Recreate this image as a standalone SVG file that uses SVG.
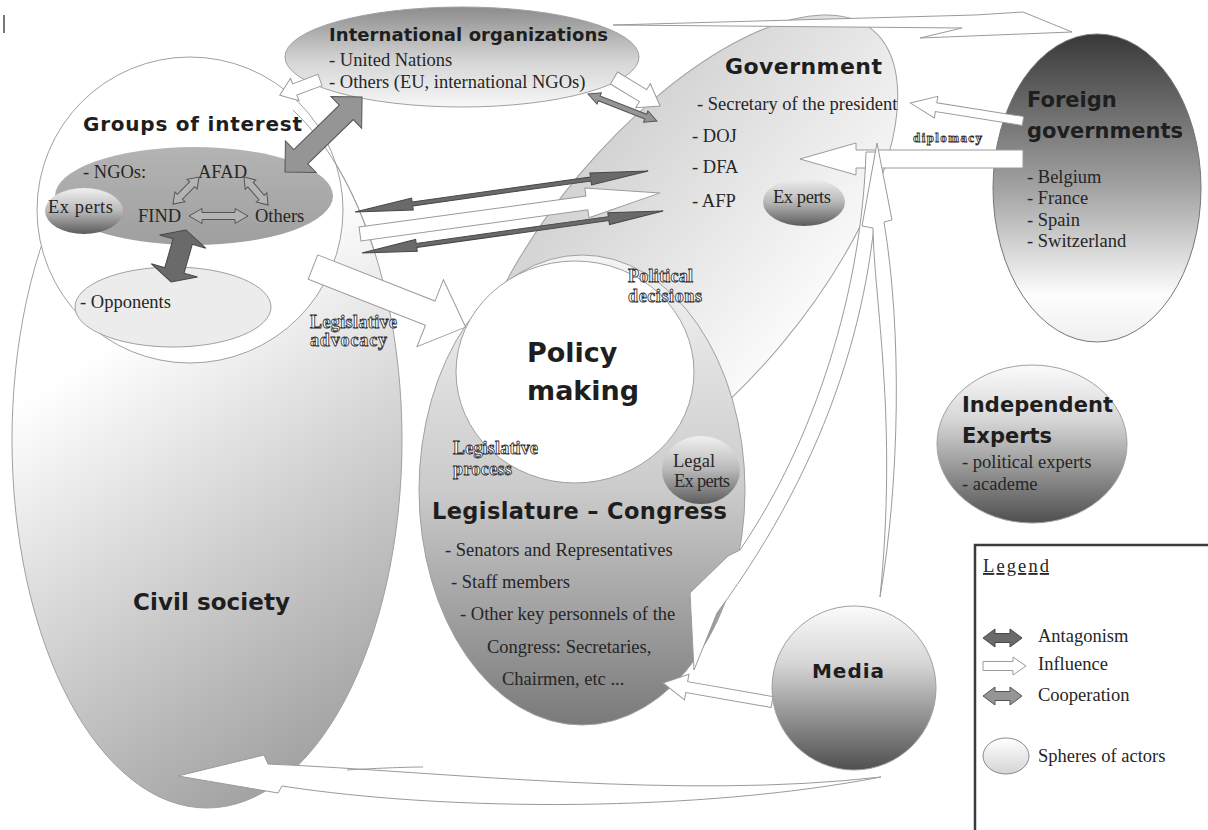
<svg xmlns="http://www.w3.org/2000/svg" width="1208" height="830" viewBox="0 0 1208 830">
  <defs>
    <linearGradient id="gCivil" gradientUnits="userSpaceOnUse" x1="100" y1="350" x2="370" y2="760">
      <stop offset="0" stop-color="#ffffff"/>
      <stop offset="1" stop-color="#9c9c9c"/>
    </linearGradient>
    <linearGradient id="gGov" x1="0" y1="0" x2="0" y2="1">
      <stop offset="0" stop-color="#d3d3d3"/>
      <stop offset="1" stop-color="#fafafa"/>
    </linearGradient>
    <linearGradient id="gIntl" x1="0" y1="0" x2="0" y2="1">
      <stop offset="0" stop-color="#8c8c8c"/>
      <stop offset="0.55" stop-color="#d6d6d6"/>
      <stop offset="1" stop-color="#f7f7f7"/>
    </linearGradient>
    <linearGradient id="gLeg" x1="0" y1="0" x2="0" y2="1">
      <stop offset="0" stop-color="#f4f4f4"/>
      <stop offset="0.5" stop-color="#cbcbcb"/>
      <stop offset="1" stop-color="#7a7a7a"/>
    </linearGradient>
    <linearGradient id="gForeign" x1="0" y1="0" x2="0" y2="1">
      <stop offset="0" stop-color="#383838"/>
      <stop offset="0.5" stop-color="#a2a2a2"/>
      <stop offset="0.85" stop-color="#fdfdfd"/>
      <stop offset="1" stop-color="#efefef"/>
    </linearGradient>
    <linearGradient id="gSphere" x1="0" y1="0" x2="0" y2="1">
      <stop offset="0" stop-color="#fbfbfb"/>
      <stop offset="0.35" stop-color="#d6d6d6"/>
      <stop offset="1" stop-color="#4f4f4f"/>
    </linearGradient>
    <linearGradient id="gSmall" x1="0" y1="0" x2="0" y2="1">
      <stop offset="0" stop-color="#f0f0f0"/>
      <stop offset="0.5" stop-color="#b8b8b8"/>
      <stop offset="1" stop-color="#5c5c5c"/>
    </linearGradient>
    <linearGradient id="gNgo" x1="0" y1="0" x2="0" y2="1">
      <stop offset="0" stop-color="#b4b4b4"/>
      <stop offset="1" stop-color="#9f9f9f"/>
    </linearGradient>
    <linearGradient id="gKey" x1="0" y1="0" x2="0" y2="1">
      <stop offset="0" stop-color="#ffffff"/>
      <stop offset="1" stop-color="#d4d4d4"/>
    </linearGradient>
  </defs>
  <style>
    .outline { stroke: #a0a0a0; stroke-width: 1; }
    .title { font-family: "DejaVu Sans", Verdana, sans-serif; font-weight: bold; fill: #1e1e1e; }
    .body { font-family: "Liberation Serif", "Times New Roman", serif; font-size: 18.5px; fill: #262626; }
    .tag { font-family: "Liberation Serif", "Times New Roman", serif; font-weight: bold; fill: #ffffff; stroke: #2b2b2b; stroke-width: 0.8px; }
    .influence { fill: #ffffff; stroke: #9a9a9a; stroke-width: 1; }
    .antagonism { fill: #6a6a6a; stroke: #474747; stroke-width: 1; }
    .cooperation { fill: #959595; stroke: #555555; stroke-width: 1; }
    .coop-small { fill: #b4b4b4; stroke: #555555; stroke-width: 1; }
  </style>

  <rect width="1208" height="830" fill="#ffffff"/>
  <rect x="3" y="15" width="2" height="18" fill="#777777"/>

  <!-- civil society sphere -->
  <g id="civil-society">
    <ellipse class="outline" cx="207" cy="440" rx="195" ry="368" fill="url(#gCivil)"/>
    <text class="title" x="133" y="610" font-size="23" textLength="157">Civil society</text>
  </g>

  <!-- government sphere (tilted) -->
  <g id="government">
    <ellipse class="outline" cx="680" cy="260" rx="300" ry="132" fill="url(#gGov)" transform="rotate(-50 680 260)"/>
    <text class="title" x="725" y="74" font-size="22" textLength="157">Government</text>
    <text class="body" x="697" y="110">- Secretary of the president</text>
    <text class="body" x="692" y="142">- DOJ</text>
    <text class="body" x="692" y="173">- DFA</text>
    <text class="body" x="692" y="207">- AFP</text>
    <ellipse cx="804" cy="202" rx="41" ry="24" fill="url(#gSmall)"/>
    <text class="body" x="773" y="203" font-size="17" textLength="58">Ex perts</text>
  </g>

  <!-- international organizations -->
  <g id="international-organizations">
    <ellipse class="outline" cx="462" cy="57" rx="177" ry="50" fill="url(#gIntl)"/>
    <text class="title" x="329" y="41" font-size="18" textLength="279">International organizations</text>
    <text class="body" x="329" y="66">- United Nations</text>
    <text class="body" x="329" y="88">- Others (EU, international NGOs)</text>
  </g>

  <!-- legislature -->
  <g id="legislature">
    <ellipse class="outline" cx="582" cy="490" rx="163" ry="235" fill="url(#gLeg)"/>
    <ellipse cx="701" cy="470" rx="39" ry="34" fill="url(#gSmall)"/>
    <text class="body" x="673" y="467" font-size="17">Legal</text>
    <text class="body" x="674" y="487" font-size="17" textLength="56">Ex perts</text>
    <text class="title" x="432" y="519" font-size="22.5" textLength="295">Legislature – Congress</text>
    <text class="body" x="445" y="556">- Senators and Representatives</text>
    <text class="body" x="451" y="588">- Staff members</text>
    <text class="body" x="460" y="620">- Other key personnels of the</text>
    <text class="body" x="487" y="653">Congress: Secretaries,</text>
    <text class="body" x="502" y="685">Chairmen, etc ...</text>
  </g>

  <!-- policy making core -->
  <g id="policy-making">
    <ellipse class="outline" cx="575" cy="372" rx="119" ry="111" fill="#ffffff"/>
    <text class="title" x="527" y="362" font-size="27">Policy</text>
    <text class="title" x="527" y="400" font-size="27">making</text>
  </g>

  <!-- groups of interest -->
  <g id="groups-of-interest">
    <circle class="outline" cx="190" cy="210" r="153" fill="#ffffff"/>
    <!-- upper right rim of the civil society sphere, seen through the circle -->
    <path d="M293,110 A195,368 0 0 1 374,250" fill="none" stroke="#a0a0a0" stroke-width="1"/>
    <text class="title" x="83" y="131" font-size="20" textLength="219">Groups of interest</text>
    <ellipse cx="194" cy="196" rx="139" ry="49" fill="url(#gNgo)"/>
    <text class="body" x="83" y="178">- NGOs:</text>
    <text class="body" x="198" y="178">AFAD</text>
    <text class="body" x="138" y="222">FIND</text>
    <text class="body" x="255" y="222">Others</text>
    <ellipse cx="84" cy="211" rx="39" ry="23" fill="url(#gSmall)"/>
    <text class="body" x="48" y="213" font-size="17" textLength="65">Ex perts</text>
    <ellipse class="outline" cx="173" cy="307" rx="98" ry="40" fill="#ececec"/>
    <text class="body" x="80" y="308">- Opponents</text>
  </g>

  <!-- foreign governments -->
  <g id="foreign-governments">
    <ellipse cx="1097" cy="188" rx="104" ry="154" fill="url(#gForeign)" stroke="#777777" stroke-width="1"/>
    <text class="title" x="1027" y="107" font-size="21">Foreign</text>
    <text class="title" x="1027" y="138" font-size="21" textLength="156">governments</text>
    <text class="body" x="1027" y="183">- Belgium</text>
    <text class="body" x="1027" y="204">- France</text>
    <text class="body" x="1027" y="226">- Spain</text>
    <text class="body" x="1027" y="247">- Switzerland</text>
  </g>

  <!-- independent experts -->
  <g id="independent-experts">
    <ellipse class="outline" cx="1032" cy="444" rx="95" ry="79" fill="url(#gSphere)"/>
    <text class="title" x="962" y="412" font-size="21" textLength="151">Independent</text>
    <text class="title" x="962" y="443" font-size="21">Experts</text>
    <text class="body" x="962" y="468">- political experts</text>
    <text class="body" x="962" y="490">- academe</text>
  </g>

  <!-- media -->
  <g id="media">
    <circle class="outline" cx="854" cy="688" r="82" fill="url(#gSphere)"/>
    <text class="title" x="812" y="678" font-size="20" textLength="72">Media</text>
  </g>

  <!-- arrows between the spheres -->
  <g id="connectors">
    <!-- international organizations -> foreign governments -->
    <path class="influence" d="M613,25 L975,15 L1023,12 L1072,32 L920,38 L962,28 Z"/>
    <!-- groups of interest <-> international organizations -->
    <path class="cooperation" transform="translate(285,172) rotate(-44.2)" d="M0,0 L22,-22 L22,-10 L85.5,-10 L85.5,-22 L107.5,0 L85.5,22 L85.5,10 L22,10 L22,22 Z"/>
    <!-- NGOs <-> opponents -->
    <path class="antagonism" transform="translate(186,230) rotate(106)" d="M0,0 L12,-24 L12,-10 L42,-10 L42,-24 L54,0 L42,24 L42,10 L12,10 L12,24 Z"/>
    <!-- AFAD / FIND / others -->
    <path class="coop-small" transform="translate(173,204) rotate(-46)" d="M0,0 L10,-7 L10,-3.5 L27.5,-3.5 L27.5,-7 L37.5,0 L27.5,7 L27.5,3.5 L10,3.5 L10,7 Z"/>
    <path class="coop-small" transform="translate(244,177) rotate(49.4)" d="M0,0 L10,-7 L10,-3.5 L27,-3.5 L27,-7 L37,0 L27,7 L27,3.5 L10,3.5 L10,7 Z"/>
    <path class="coop-small" transform="translate(189,216)" d="M0,0 L13,-7.5 L13,-3.5 L46,-3.5 L46,-7.5 L59,0 L46,7.5 L46,3.5 L13,3.5 L13,7.5 Z"/>
    <!-- international organizations <-> government -->
    <path class="cooperation" transform="translate(588,94) rotate(21.4)" d="M0,0 L12,-6 L12,-2.5 L62,-2.5 L62,-6 L74,0 L62,6 L62,2.5 L12,2.5 L12,6 Z"/>
    <!-- international organizations -> groups / government -->
    <path class="influence" transform="translate(320,80) rotate(159.4)" d="M0,-6 L27,-6 L27,-12 L43,0 L27,12 L27,6 L0,6 Z"/>
    <path class="influence" transform="translate(614,78) rotate(31.3)" d="M0,-7 L34,-7 L34,-14 L54,0 L34,14 L34,7 L0,7 Z"/>
    <!-- groups of interest <-> government -->
    <path class="antagonism" fill="#767676" transform="translate(355,212) rotate(-7.97)" d="M0,0 L58,-6 L58,-2 L238,-2 L238,-6 L296,0 L238,6 L238,2 L58,2 L58,6 Z"/>
    <path class="influence" transform="translate(360,234) rotate(-7.8)" d="M0,-7 L229,-7 L229,-15 L303,0 L229,15 L229,7 L0,7 Z"/>
    <path class="antagonism" transform="translate(362,253) rotate(-7.94)" d="M0,0 L55,-6 L55,-2 L249,-2 L249,-6 L304,0 L249,6 L249,2 L55,2 L55,6 Z"/>
    <!-- legislative advocacy -->
    <path class="influence" transform="translate(313,267) rotate(21.5)" d="M0,-13 L126,-13 L126,-36 L164,0 L126,36 L126,13 L0,13 Z"/>
    <!-- foreign governments -> government (diplomacy) -->
    <path class="influence" transform="translate(1023,121) rotate(189.05)" d="M0,-4.5 L88,-4.5 L88,-11 L114,0 L88,11 L88,4.5 L0,4.5 Z"/>
    <path class="influence" transform="translate(1023,159) rotate(180)" d="M0,-9 L167,-9 L167,-16 L223,0 L167,16 L167,9 L0,9 Z"/>
    <!-- government -> legislature (curved) -->
    <path class="influence" d="M866,152 C862,290 815,440 740,550 L728,556 L690,593 L694,670 L717,613 C830,460 878,300 878,152 Z"/>
    <!-- media -> government (curved, thin) -->
    <path class="influence" d="M880,597 C900,480 902,330 884,222 L892,220 L877,143 L862,226 L873,228 C874,300 898,420 880,597 Z"/>
    <!-- media -> legislature -->
    <path class="influence" transform="translate(772,702) rotate(189.9)" d="M0,-5.5 L86.6,-5.5 L86.6,-13 L110.6,0 L86.6,13 L86.6,5.5 L0,5.5 Z"/>
    <!-- media -> civil society (curved, along the bottom) -->
    <path class="influence" d="M881,777 C680,800 450,772 268,764 L264,755 L178,776 L278,793 L282,786 C450,812 700,812 881,777 Z"/>
    <path d="M347,770 C380,768 410,767 423,767" fill="none" stroke="#9a9a9a" stroke-width="1"/>
  </g>

  <!-- outlined relation labels -->
  <g id="labels">
    <text class="tag" x="310" y="328" font-size="18" textLength="87">Legislative</text>
    <text class="tag" x="310" y="346" font-size="18" textLength="77">advocacy</text>
    <text class="tag" x="628" y="282" font-size="18" textLength="65">Political</text>
    <text class="tag" x="628" y="302" font-size="18" textLength="74">decisions</text>
    <text class="tag" x="453" y="454" font-size="18" textLength="85">Legislative</text>
    <text class="tag" x="453" y="475" font-size="18" textLength="59">process</text>
    <text class="tag" x="913" y="142" font-size="13" textLength="69">diplomacy</text>
  </g>

  <!-- legend -->
  <g id="legend">
    <rect x="975" y="545" width="245" height="300" fill="#ffffff" stroke="#3c3c3c" stroke-width="2.5"/>
    <text class="body" x="983" y="572" font-size="19" textLength="66" text-decoration="underline">Legend</text>
    <path class="antagonism" transform="translate(983,638)" d="M0,0 L12,-9 L12,-4.5 L27,-4.5 L27,-9 L39,0 L27,9 L27,4.5 L12,4.5 L12,9 Z"/>
    <text class="body" x="1038" y="642" font-size="17.5">Antagonism</text>
    <path class="influence" transform="translate(983,666)" d="M0,-4.5 L30,-4.5 L30,-9 L43,0 L30,9 L30,4.5 L0,4.5 Z"/>
    <text class="body" x="1038" y="670" font-size="17.5">Influence</text>
    <path class="cooperation" transform="translate(983,696)" d="M0,0 L12,-9 L12,-4.5 L27,-4.5 L27,-9 L39,0 L27,9 L27,4.5 L12,4.5 L12,9 Z"/>
    <text class="body" x="1038" y="701" font-size="17.5">Cooperation</text>
    <ellipse cx="1006" cy="756" rx="23" ry="18" fill="url(#gKey)" stroke="#8a8a8a" stroke-width="1"/>
    <text class="body" x="1038" y="762" font-size="17.5">Spheres of actors</text>
  </g>
</svg>
